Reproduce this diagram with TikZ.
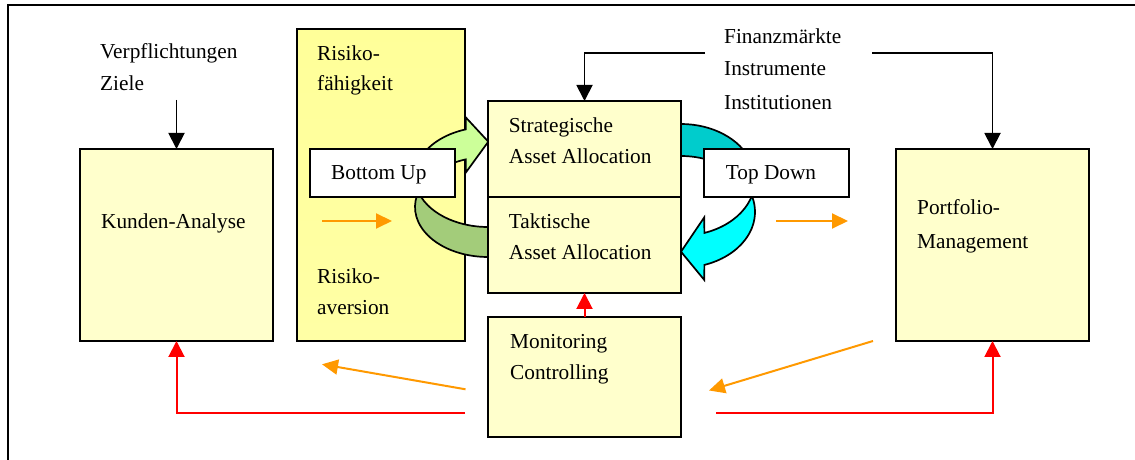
\documentclass[tikz,border=0pt]{standalone}
\usepackage{fontspec}
\setmainfont{Liberation Serif}
\usetikzlibrary{arrows.meta}
\definecolor{boxfill}{HTML}{FFFFCC}
\definecolor{risfill}{HTML}{FFFF99}
\definecolor{lgreen}{HTML}{CCFF99}
\definecolor{dgreen}{HTML}{A3CC7A}
\definecolor{tealband}{HTML}{00CCCC}
\definecolor{cyanband}{HTML}{00FFFF}
\definecolor{orng}{HTML}{FF9900}
\definecolor{redl}{HTML}{FF0000}
\begin{document}
\begin{tikzpicture}[x=1pt,y=1pt,
  box/.style={draw=black,line width=1.7pt,fill=boxfill,rectangle,inner sep=0pt,outer sep=0pt},
  wbox/.style={draw=black,line width=1.7pt,fill=white,rectangle,inner sep=0pt,outer sep=0pt},
  lbl/.style={inner sep=0pt,anchor=base west,font=\fontsize{21.3}{32}\selectfont},
  blk/.style={draw=black,line width=1.9pt,-{Triangle[length=16pt,width=16pt]}},
  org/.style={draw=orng,line width=2pt,-{Triangle[length=16pt,width=15pt]}},
  rd/.style={draw=redl,line width=2pt,-{Triangle[length=16pt,width=16pt]}},
  band/.style={draw=black,line width=1.7pt}]
\useasboundingbox (0,0) rectangle (1135,460);
\fill[white] (0,0) rectangle (1135,460);
\draw[line width=1.6pt] (8,0) -- (8,455) -- (1135,455);

% left boxes
\node[box,minimum width=193,minimum height=192] (kunden) at (176.5,215) {};
\node[draw=black,line width=1.7pt,rectangle,inner sep=0pt,outer sep=0pt,
      top color=risfill,bottom color=risfill!88!white,
      minimum width=168,minimum height=312] (risiko) at (381,275) {};

% Bottom Up curved arrow
\draw[band,fill=dgreen] (488,203)
  arc[start angle=270,end angle=160,x radius=73,y radius=50]
  -- (417.49,270.06)
  arc[start angle=195,end angle=270,x radius=73,y radius=50] -- cycle;
\draw[band,fill=lgreen] (419.40,300.10)
  arc[start angle=160,end angle=107.8,x radius=73,y radius=50]
  -- (465.7,342.7) -- (488.3,318.3) -- (465.7,287.3) -- (465.68,300.6)
  arc[start angle=107.8,end angle=150,x radius=73,y radius=50] -- cycle;
\node[wbox,minimum width=145,minimum height=48] (bu) at (382.5,287) {};

% Top Down curved arrow
\draw[band,fill=tealband] (681,336)
  arc[start angle=90,end angle=20,x radius=74,y radius=55.9]
  -- (745.09,276.05)
  arc[start angle=30,end angle=90,x radius=74,y radius=55.9] -- cycle;
\draw[band,fill=cyanband] (745.09,276.05)
  arc[start angle=30,end angle=-71.6,x radius=74,y radius=55.9]
  -- (704.3,180) -- (681,208.3) -- (704.3,242.7) -- (704.36,227.06)
  arc[start angle=-71.6,end angle=10,x radius=74,y radius=55.9] -- cycle;
\node[wbox,minimum width=145,minimum height=48] (td) at (776.5,287) {};

% central and right boxes
\node[box,minimum width=193,minimum height=96] (strat) at (584.5,311) {};
\node[box,minimum width=193,minimum height=96] (takt) at (584.5,215) {};
\node[box,minimum width=193,minimum height=120] (mon) at (584.5,83) {};
\node[box,minimum width=193,minimum height=192] (port) at (992.5,215) {};

% texts
\node[lbl] (t1) at (100,401.7) {Verpflichtungen};
\node[lbl] (t2) at (100,369.3) {Ziele};
\node[lbl] (t3) at (101,231.3) {Kunden-Analyse};
\node[lbl] (t4) at (317,399.3) {Risiko-};
\node[lbl] (t5) at (317,369) {fähigkeit};
\node[lbl] (t6) at (317,176) {Risiko-};
\node[lbl] (t7) at (317,145) {aversion};
\node[lbl] (t8) at (331,280) {Bottom Up};
\node[lbl] (t9) at (508.7,327.3) {Strategische};
\node[lbl] (t10) at (508.7,296) {Asset Allocation};
\node[lbl] (t11) at (508.7,231.7) {Taktische};
\node[lbl] (t12) at (508.7,200.7) {Asset Allocation};
\node[lbl] (t13) at (724,416) {Finanzmärkte};
\node[lbl] (t14) at (724,384) {Instrumente};
\node[lbl] (t15) at (724,350.7) {Institutionen};
\node[lbl] (t16) at (725.7,280) {Top Down};
\node[lbl] (t17) at (917,245) {Portfolio-};
\node[lbl] (t18) at (917,211.7) {Management};
\node[lbl] (t19) at (510,111.7) {Monitoring};
\node[lbl] (t20) at (510,80) {Controlling};

% black arrows
\coordinate (zin) at (176.5,360);
\draw[blk] (zin) -- (kunden.north);
\coordinate (fl) at (705,407);
\coordinate (fr) at (872,407);
\draw[blk] (fl) -| (strat.north);
\draw[blk] (fr) -| (port.north);

% orange arrows
\coordinate (o1a) at (322,239); \coordinate (o1b) at (392,239);
\coordinate (o2a) at (776,239); \coordinate (o2b) at (848,239);
\coordinate (o3a) at (465.5,70.7); \coordinate (o3b) at (322,95.7);
\coordinate (o4a) at (873,119); \coordinate (o4b) at (709,69.5);
\draw[org] (o1a) -- (o1b);
\draw[org] (o2a) -- (o2b);
\draw[org] (o3a) -- (o3b);
\draw[org] (o4a) -- (o4b);

% red arrows
\coordinate (r1) at (465,47);
\coordinate (r2) at (716,47);
\draw[rd] (r1) -| (kunden.south);
\draw[rd] (r2) -| (port.south);
\draw[rd] (mon.north) -- (takt.south);
\end{tikzpicture}
\end{document}
